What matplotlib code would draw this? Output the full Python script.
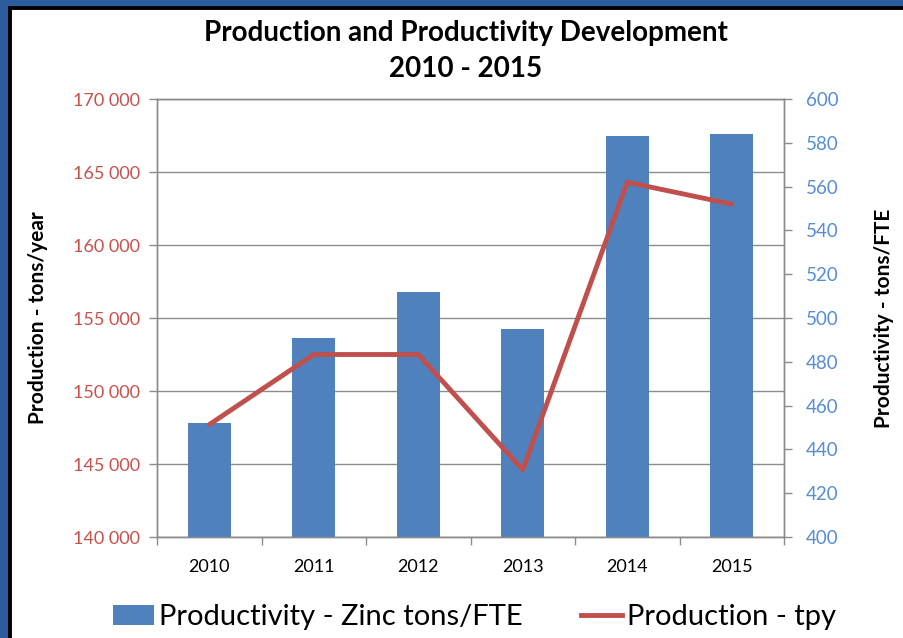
import matplotlib
matplotlib.use("Agg")
import matplotlib.pyplot as plt
from matplotlib.patches import Rectangle, Patch
from matplotlib.lines import Line2D
from matplotlib.ticker import FuncFormatter, MultipleLocator

years = ["2010", "2011", "2012", "2013", "2014", "2015"]
productivity = [452, 491, 512, 495, 583, 584]          # zinc tons/FTE (right axis)
production = [147700, 152500, 152500, 144600, 164300, 162800]  # tons/year (left axis)

bar_color = "#4F81BD"
line_color = "#C0504D"
grid_color = "#8C8C8C"
plt.rcParams["font.family"] = ["Lato", "DejaVu Sans"]

fig = plt.figure(figsize=(9.04, 6.38), dpi=100)
fig.patch.set_facecolor("#2B5C9E")
fig.patches.append(Rectangle((0.011, -0.01), 1.0, 0.998, transform=fig.transFigure,
                             facecolor="white", edgecolor="black", linewidth=2.8, zorder=0))

ax = fig.add_axes([0.1737, 0.1583, 0.6936, 0.6865])
ax.set_zorder(1)
axb = ax.twinx()
axb.set_zorder(2)
axb.patch.set_visible(False)
axl = ax.twinx()
axl.set_zorder(3)
axl.patch.set_visible(False)

x = list(range(len(years)))

# left axis: production scale + gridlines
ax.set_ylim(140000, 170000)
ax.yaxis.set_major_locator(MultipleLocator(5000))
ax.yaxis.set_major_formatter(FuncFormatter(lambda v, p: f"{int(v):,}".replace(",", " ")))
ax.grid(axis="y", color=grid_color, linewidth=1)
ax.set_axisbelow(True)
ax.tick_params(axis="y", colors=grid_color, labelcolor="#C9504B", labelsize=13,
               direction="out", length=6, width=1, pad=6)
ax.set_ylabel("Production - tons/year", fontsize=15, fontweight="bold", labelpad=18)

# bars on right axis
axb.bar(x, productivity, width=0.41, color=bar_color, zorder=2)
axb.set_ylim(400, 600)
axb.yaxis.set_major_locator(MultipleLocator(20))
axb.tick_params(axis="y", colors=grid_color, labelcolor="#558ED5", labelsize=13.5,
                direction="out", length=6, width=1, pad=10)
axb.set_ylabel("Productivity - tons/FTE", fontsize=15, fontweight="bold", labelpad=25)

# line on production scale, drawn on top
axl.plot(x, production, color=line_color, linewidth=3.5, solid_capstyle="round")
axl.set_ylim(ax.get_ylim())
axl.set_yticks([])
for s in axl.spines.values():
    s.set_visible(False)

ax.set_xlim(-0.5, len(years) - 0.5)
ax.set_xticks(x)
ax.set_xticklabels(years)
ax.set_xticks([i - 0.5 for i in range(len(years) + 1)], minor=True)
ax.tick_params(axis="x", which="major", length=0, labelsize=13, pad=16)
ax.tick_params(axis="x", which="minor", length=6, color=grid_color, width=1)

for a in (ax, axb):
    for s in a.spines.values():
        s.set_color(grid_color)
        s.set_linewidth(1)

fig.text(0.515, 0.948, "Production and Productivity Development", ha="center", va="center",
         fontsize=20, fontweight="bold")
fig.text(0.515, 0.892, "2010 - 2015", ha="center", va="center",
         fontsize=20, fontweight="bold")

handles = [Patch(facecolor=bar_color), Line2D([0], [0], color=line_color, linewidth=3.5)]
fig.legend(handles, ["Productivity - Zinc tons/FTE", "Production - tpy"], loc="center",
           bbox_to_anchor=(0.525, 0.033), ncol=2, frameon=False, fontsize=21,
           columnspacing=2.0, handlelength=1.4, handletextpad=0.17)

fig.savefig("out.png", dpi=100, facecolor=fig.get_facecolor())
